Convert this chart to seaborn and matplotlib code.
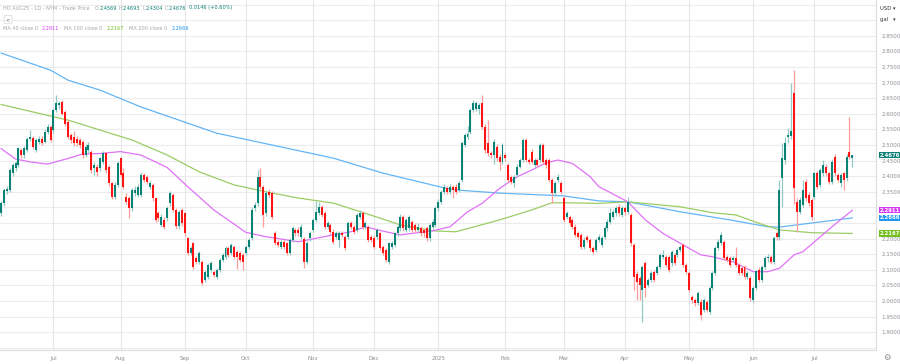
import numpy as np
import pandas as pd
import matplotlib
matplotlib.use("Agg")
import matplotlib.pyplot as plt
import matplotlib.transforms as mtransforms
import seaborn as sns

# -------------------------------
# Daily candles, HO AUG25
# -------------------------------
opens = [
    # Jun 2024
    2.281, 2.313, 2.352, 2.356, 2.409, 2.425, 2.436, 2.484, 2.468, 2.484, 2.520, 2.524, 2.484, 2.511, 2.521, 2.511, 2.543, 2.559,
    # Jul 2024
    2.548, 2.612, 2.628, 2.639, 2.606, 2.574, 2.532, 2.527, 2.521, 2.516, 2.511, 2.468, 2.484, 2.478, 2.425, 2.431, 2.425, 2.447, 2.473, 2.431, 2.377, 2.334, 2.372,
    # Aug 2024
    2.457, 2.410, 2.334, 2.329, 2.297, 2.345, 2.340, 2.340, 2.404, 2.399, 2.367, 2.372, 2.329, 2.281, 2.244, 2.260, 2.265, 2.313, 2.340, 2.292, 2.240, 2.292,
    # Sep 2024
    2.281, 2.201, 2.153, 2.185, 2.137, 2.126, 2.126, 2.067, 2.078, 2.099, 2.094, 2.078, 2.099, 2.132, 2.142, 2.169, 2.153, 2.174, 2.158, 2.153, 2.148,
    # Oct 2024
    2.153, 2.174, 2.201, 2.297, 2.313, 2.399, 2.367, 2.281, 2.350, 2.345, 2.217, 2.190, 2.174, 2.190, 2.185, 2.153, 2.196, 2.228, 2.228, 2.206, 2.200, 2.126, 2.201,
    # Nov 2024
    2.228, 2.260, 2.281, 2.302, 2.281, 2.238, 2.244, 2.222, 2.206, 2.196, 2.217, 2.206, 2.206, 2.249, 2.238, 2.228, 2.270, 2.281, 2.238, 2.238, 2.206,
    # Dec 2024
    2.201, 2.206, 2.217, 2.174, 2.164, 2.126, 2.174, 2.180, 2.217, 2.233, 2.270, 2.228, 2.233, 2.254, 2.244, 2.228, 2.233, 2.228, 2.233, 2.201, 2.238, 2.244,
    # Jan 2025
    2.297, 2.318, 2.350, 2.361, 2.350, 2.367, 2.367, 2.356, 2.388, 2.500, 2.527, 2.543, 2.612, 2.617, 2.617, 2.634, 2.559, 2.505, 2.473, 2.468, 2.495, 2.463, 2.447,
    # Feb 2025
    2.468, 2.436, 2.399, 2.377, 2.404, 2.431, 2.452, 2.516, 2.452, 2.479, 2.436, 2.452, 2.452, 2.500, 2.452, 2.452, 2.388, 2.345, 2.388, 2.377,
    # Mar 2025
    2.329, 2.270, 2.270, 2.260, 2.238, 2.217, 2.212, 2.174, 2.206, 2.196, 2.169, 2.164, 2.196, 2.180, 2.206, 2.233, 2.254, 2.270, 2.281, 2.302, 2.276,
    # Apr 2025
    2.297, 2.286, 2.276, 2.180, 2.088, 2.073, 2.035, 2.121, 2.052, 2.068, 2.094, 2.089, 2.110, 2.142, 2.142, 2.142, 2.121, 2.148, 2.148, 2.163, 2.180, 2.116,
    # May 2025
    2.090, 2.014, 2.004, 1.993, 1.998, 1.971, 1.998, 1.966, 2.041, 2.090, 2.169, 2.185, 2.190, 2.142, 2.137, 2.132, 2.137, 2.116, 2.105, 2.110, 2.078, 2.073,
    # Jun 2025
    2.004, 2.041, 2.100, 2.068, 2.110, 2.137, 2.142, 2.126, 2.217, 2.206, 2.393, 2.452, 2.525, 2.530, 2.666, 2.318, 2.286, 2.308, 2.382, 2.340, 2.324,
    # Jul 2025
    2.334, 2.409, 2.372, 2.409, 2.431, 2.409, 2.382, 2.463, 2.404, 2.377, 2.409, 2.393, 2.479, 2.4569,
]
highs = [
    2.322, 2.362, 2.368, 2.426, 2.444, 2.450, 2.495, 2.492, 2.497, 2.527, 2.548, 2.530, 2.522, 2.528, 2.530, 2.550, 2.566, 2.565,
    2.620, 2.660, 2.640, 2.645, 2.612, 2.580, 2.540, 2.545, 2.528, 2.522, 2.516, 2.502, 2.510, 2.484, 2.445, 2.438, 2.463, 2.482, 2.478, 2.436, 2.383, 2.380, 2.450,
    2.463, 2.428, 2.345, 2.336, 2.362, 2.368, 2.375, 2.415, 2.410, 2.405, 2.385, 2.378, 2.335, 2.288, 2.278, 2.268, 2.305, 2.352, 2.346, 2.298, 2.292, 2.298,
    2.286, 2.206, 2.176, 2.190, 2.143, 2.160, 2.132, 2.100, 2.122, 2.128, 2.100, 2.106, 2.138, 2.155, 2.176, 2.175, 2.186, 2.180, 2.165, 2.160, 2.154,
    2.180, 2.202, 2.300, 2.316, 2.420, 2.425, 2.372, 2.352, 2.358, 2.352, 2.224, 2.196, 2.196, 2.196, 2.190, 2.202, 2.240, 2.234, 2.236, 2.246, 2.206, 2.192, 2.224,
    2.266, 2.320, 2.318, 2.308, 2.290, 2.258, 2.250, 2.230, 2.226, 2.224, 2.224, 2.212, 2.256, 2.256, 2.245, 2.282, 2.292, 2.288, 2.256, 2.245, 2.212,
    2.208, 2.234, 2.222, 2.180, 2.170, 2.190, 2.192, 2.222, 2.244, 2.278, 2.276, 2.266, 2.276, 2.260, 2.250, 2.250, 2.240, 2.234, 2.240, 2.250, 2.262, 2.304,
    2.326, 2.356, 2.375, 2.368, 2.374, 2.372, 2.374, 2.385, 2.512, 2.540, 2.560, 2.620, 2.645, 2.642, 2.636, 2.660, 2.566, 2.580, 2.480, 2.518, 2.502, 2.470, 2.508,
    2.475, 2.442, 2.405, 2.405, 2.438, 2.458, 2.524, 2.522, 2.460, 2.486, 2.460, 2.460, 2.508, 2.506, 2.458, 2.458, 2.394, 2.384, 2.406, 2.384,
    2.336, 2.290, 2.276, 2.266, 2.246, 2.224, 2.218, 2.204, 2.212, 2.202, 2.176, 2.202, 2.214, 2.208, 2.240, 2.262, 2.297, 2.294, 2.305, 2.310, 2.305,
    2.305, 2.334, 2.282, 2.186, 2.095, 2.080, 2.116, 2.128, 2.075, 2.095, 2.100, 2.116, 2.154, 2.164, 2.148, 2.148, 2.164, 2.154, 2.170, 2.180, 2.186, 2.122,
    2.096, 2.020, 2.010, 2.032, 2.005, 2.010, 2.004, 2.048, 2.096, 2.176, 2.198, 2.220, 2.196, 2.148, 2.143, 2.144, 2.174, 2.122, 2.112, 2.116, 2.096, 2.080,
    2.048, 2.100, 2.108, 2.116, 2.144, 2.150, 2.148, 2.208, 2.224, 2.388, 2.505, 2.527, 2.555, 2.698, 2.740, 2.330, 2.334, 2.388, 2.392, 2.348, 2.330,
    2.415, 2.418, 2.428, 2.452, 2.438, 2.414, 2.455, 2.470, 2.410, 2.410, 2.414, 2.470, 2.591, 2.4693,
]
lows = [
    2.272, 2.305, 2.344, 2.350, 2.402, 2.418, 2.430, 2.460, 2.460, 2.478, 2.512, 2.488, 2.478, 2.504, 2.500, 2.505, 2.536, 2.510,
    2.540, 2.606, 2.615, 2.595, 2.560, 2.520, 2.505, 2.498, 2.496, 2.490, 2.460, 2.462, 2.476, 2.412, 2.405, 2.402, 2.418, 2.440, 2.412, 2.370, 2.328, 2.328, 2.366,
    2.398, 2.360, 2.310, 2.265, 2.290, 2.338, 2.333, 2.334, 2.380, 2.375, 2.360, 2.322, 2.252, 2.258, 2.238, 2.230, 2.258, 2.306, 2.285, 2.232, 2.232, 2.240,
    2.210, 2.146, 2.146, 2.104, 2.118, 2.120, 2.050, 2.060, 2.070, 2.092, 2.076, 2.072, 2.092, 2.126, 2.136, 2.140, 2.146, 2.134, 2.104, 2.125, 2.098,
    2.146, 2.168, 2.195, 2.288, 2.306, 2.360, 2.238, 2.274, 2.332, 2.262, 2.178, 2.172, 2.166, 2.166, 2.146, 2.146, 2.190, 2.210, 2.208, 2.200, 2.105, 2.118, 2.194,
    2.222, 2.254, 2.276, 2.268, 2.230, 2.230, 2.214, 2.182, 2.198, 2.174, 2.204, 2.162, 2.200, 2.230, 2.214, 2.222, 2.262, 2.230, 2.230, 2.188, 2.188,
    2.166, 2.198, 2.162, 2.146, 2.124, 2.120, 2.168, 2.174, 2.210, 2.226, 2.226, 2.220, 2.226, 2.220, 2.220, 2.222, 2.210, 2.206, 2.194, 2.194, 2.232, 2.238,
    2.290, 2.312, 2.344, 2.342, 2.344, 2.330, 2.343, 2.350, 2.382, 2.494, 2.520, 2.536, 2.606, 2.610, 2.600, 2.552, 2.476, 2.466, 2.460, 2.440, 2.450, 2.420, 2.440,
    2.450, 2.380, 2.375, 2.367, 2.398, 2.425, 2.446, 2.446, 2.440, 2.440, 2.430, 2.430, 2.446, 2.440, 2.428, 2.380, 2.313, 2.338, 2.380, 2.343,
    2.252, 2.262, 2.240, 2.230, 2.204, 2.198, 2.166, 2.168, 2.188, 2.160, 2.150, 2.158, 2.190, 2.174, 2.200, 2.226, 2.248, 2.262, 2.274, 2.274, 2.270,
    2.276, 2.278, 2.176, 2.035, 2.004, 2.003, 1.934, 2.014, 2.045, 2.060, 2.060, 2.082, 2.104, 2.136, 2.108, 2.094, 2.112, 2.114, 2.142, 2.158, 2.108, 2.086,
    2.028, 1.993, 1.984, 1.986, 1.940, 1.964, 1.964, 1.960, 2.034, 2.084, 2.162, 2.178, 2.130, 2.124, 2.108, 2.124, 2.108, 2.082, 2.082, 2.070, 2.070, 2.000,
    1.998, 2.034, 2.060, 2.060, 2.104, 2.126, 2.118, 2.120, 2.196, 2.196, 2.302, 2.440, 2.505, 2.520, 2.310, 2.222, 2.278, 2.300, 2.320, 2.306, 2.260,
    2.326, 2.360, 2.366, 2.402, 2.400, 2.374, 2.376, 2.400, 2.380, 2.366, 2.356, 2.386, 2.455, 2.4304,
]
closes = [
    2.313, 2.356, 2.360, 2.420, 2.436, 2.441, 2.489, 2.468, 2.489, 2.521, 2.527, 2.495, 2.516, 2.521, 2.507, 2.543, 2.559, 2.516,
    2.612, 2.634, 2.634, 2.601, 2.569, 2.527, 2.516, 2.505, 2.505, 2.500, 2.468, 2.495, 2.500, 2.420, 2.436, 2.415, 2.457, 2.473, 2.420, 2.377, 2.334, 2.372, 2.441,
    2.404, 2.367, 2.318, 2.297, 2.356, 2.356, 2.367, 2.404, 2.388, 2.383, 2.377, 2.329, 2.260, 2.265, 2.270, 2.238, 2.297, 2.345, 2.292, 2.240, 2.286, 2.249,
    2.217, 2.153, 2.169, 2.110, 2.126, 2.153, 2.057, 2.094, 2.115, 2.121, 2.083, 2.099, 2.132, 2.148, 2.169, 2.148, 2.180, 2.142, 2.142, 2.132, 2.126,
    2.174, 2.196, 2.292, 2.308, 2.399, 2.367, 2.276, 2.345, 2.340, 2.270, 2.185, 2.180, 2.190, 2.174, 2.153, 2.196, 2.233, 2.217, 2.217, 2.238, 2.126, 2.185, 2.217,
    2.260, 2.286, 2.302, 2.276, 2.238, 2.249, 2.222, 2.190, 2.217, 2.217, 2.212, 2.169, 2.249, 2.238, 2.222, 2.276, 2.281, 2.238, 2.249, 2.196, 2.196,
    2.174, 2.228, 2.169, 2.153, 2.132, 2.185, 2.185, 2.217, 2.238, 2.270, 2.233, 2.260, 2.270, 2.228, 2.228, 2.238, 2.217, 2.217, 2.201, 2.244, 2.254, 2.297,
    2.318, 2.350, 2.367, 2.350, 2.367, 2.356, 2.350, 2.377, 2.505, 2.532, 2.537, 2.612, 2.634, 2.634, 2.628, 2.559, 2.484, 2.473, 2.468, 2.511, 2.457, 2.447, 2.500,
    2.457, 2.388, 2.383, 2.399, 2.431, 2.452, 2.516, 2.452, 2.447, 2.447, 2.452, 2.436, 2.500, 2.447, 2.436, 2.388, 2.345, 2.377, 2.399, 2.350,
    2.260, 2.281, 2.249, 2.238, 2.212, 2.206, 2.174, 2.196, 2.196, 2.169, 2.158, 2.196, 2.206, 2.201, 2.233, 2.254, 2.281, 2.286, 2.297, 2.281, 2.297,
    2.286, 2.318, 2.185, 2.078, 2.062, 2.052, 2.110, 2.041, 2.068, 2.089, 2.068, 2.110, 2.148, 2.148, 2.116, 2.100, 2.158, 2.121, 2.163, 2.174, 2.116, 2.094,
    2.036, 2.004, 1.993, 2.025, 1.955, 2.004, 1.971, 2.041, 2.090, 2.169, 2.190, 2.212, 2.137, 2.132, 2.116, 2.137, 2.116, 2.089, 2.089, 2.078, 2.089, 2.009,
    2.041, 2.095, 2.068, 2.110, 2.137, 2.142, 2.126, 2.201, 2.206, 2.356, 2.457, 2.505, 2.532, 2.545, 2.361, 2.286, 2.324, 2.356, 2.329, 2.313, 2.270,
    2.409, 2.367, 2.420, 2.436, 2.409, 2.382, 2.447, 2.409, 2.388, 2.404, 2.388, 2.463, 2.463, 2.4676,
]

# -------------------------------
# Moving averages (bar position, value)
# -------------------------------
ma40_pos = [0, 5, 10, 16, 23, 28, 34, 41, 48, 57, 64, 73, 84, 91, 102, 114, 120, 125, 132, 137, 148, 154, 160, 165,
            171, 177, 182, 187, 191, 196, 202, 205, 215, 221, 227, 233, 240, 244, 251, 258, 263, 267, 272, 275, 281, 285, 292]
ma40_val = [2.489, 2.455, 2.446, 2.439, 2.457, 2.471, 2.473, 2.479, 2.468, 2.428, 2.367, 2.292, 2.220, 2.206, 2.190,
            2.212, 2.222, 2.238, 2.222, 2.212, 2.225, 2.238, 2.286, 2.313, 2.361, 2.398, 2.420, 2.443, 2.452, 2.441,
            2.399, 2.367, 2.318, 2.260, 2.217, 2.185, 2.148, 2.142, 2.126, 2.094, 2.094, 2.105, 2.148, 2.158, 2.206,
            2.238, 2.2911]
ma100_pos = [0, 11, 23, 34, 45, 57, 68, 80, 91, 102, 114, 125, 137, 148, 156, 171, 182, 189, 194, 205, 215, 233, 244,
             252, 260, 267, 278, 292]
ma100_val = [2.630, 2.606, 2.580, 2.548, 2.516, 2.468, 2.414, 2.372, 2.350, 2.330, 2.314, 2.281, 2.244, 2.225, 2.222,
             2.260, 2.292, 2.315, 2.315, 2.313, 2.318, 2.302, 2.283, 2.276, 2.249, 2.228, 2.219, 2.2167]
ma200_pos = [0, 17, 23, 34, 48, 61, 74, 85, 102, 114, 131, 151, 156, 171, 193, 205, 215, 233, 250, 263, 267, 278, 292]
ma200_val = [2.795, 2.740, 2.708, 2.676, 2.622, 2.580, 2.538, 2.516, 2.482, 2.458, 2.410, 2.365, 2.356, 2.346, 2.337,
             2.321, 2.318, 2.286, 2.260, 2.238, 2.237, 2.250, 2.2666]

y_ticks = [1.90, 1.95, 2.00, 2.05, 2.10, 2.15, 2.20, 2.25, 2.30, 2.35, 2.40, 2.45, 2.50, 2.55, 2.60, 2.65, 2.70,
           2.75, 2.80, 2.85]
hidden_ticks = [2.25, 2.30]   # covered by the MA value tags on the scale
grid_levels = [1.85] + y_ticks + [2.90, 2.95]

# -------------------------------
# Prepare frame
# -------------------------------
dates = pd.bdate_range("2024-06-05", "2025-07-18")
df = pd.DataFrame({"date": dates, "open": opens, "high": highs, "low": lows, "close": closes})
df["pos"] = np.arange(len(df))
up = df["close"] >= df["open"]

sns.set_style("white")
plt.rcParams["font.family"] = ["DejaVu Sans"]

teal = "#0b8276"
red = "#ff1414"
grey_txt = "#8b8e95"
grey_lbl = "#a3a6ad"

fig = plt.figure(figsize=(9, 3.64), dpi=100)
ax = fig.add_axes([0, 14 / 364, 876 / 900, 350 / 364])

# grid
for lv in grid_levels:
    ax.axhline(lv, color="#ececec", lw=0.8, zorder=0)

months = df.groupby(df["date"].dt.to_period("M"))["pos"].min().iloc[1:]
month_labels = [("2025" if p.month == 1 else p.strftime("%b")) for p in months.index]
for p in months.values:
    ax.axvline(p, color="#e6e6e6", lw=0.8, zorder=0)

# moving averages
for pos, val, col in [(ma200_pos, ma200_val, "#64b5f6"),
                      (ma100_pos, ma100_val, "#9ccc65"),
                      (ma40_pos, ma40_val, "#df72f7")]:
    sns.lineplot(x=pos, y=val, color=col, lw=0.9, ax=ax, zorder=2)

# candles
wick_cols = np.where(up, "#93c9c3", "#ff9d9d")
body_cols = np.where(up, teal, red)
ax.vlines(df["pos"], df["low"], df["high"], colors=wick_cols, lw=0.9, zorder=3)
body_bottom = np.minimum(df["open"], df["close"])
body_h = (df["close"] - df["open"]).abs().clip(lower=0.003)
ax.bar(df["pos"], body_h, bottom=body_bottom, width=0.68, color=body_cols, linewidth=0, zorder=4)

# axes
ax.set_xlim(-0.34, 300.1)
ax.set_ylim(1.843, 2.965)
ax.set_xticks(months.values)
ax.set_xticklabels(month_labels)
ax.yaxis.tick_right()
ax.set_yticks(y_ticks)
ax.set_yticklabels(["" if v in hidden_ticks else f"{v:.4f}" for v in y_ticks])
ax.tick_params(axis="both", length=0, labelsize=4, labelcolor=grey_txt)
ax.tick_params(axis="x", pad=4)
ax.tick_params(axis="y", pad=4)
ax.set_xlabel("")
ax.set_ylabel("")
for s in ["top", "left"]:
    ax.spines[s].set_visible(False)
for s in ["right", "bottom"]:
    ax.spines[s].set_color("#dcdcdc")
    ax.spines[s].set_linewidth(0.8)

# last value tags on the price scale
trans = mtransforms.blended_transform_factory(ax.transAxes, ax.transData)
for val, col in [(closes[-1], teal), (ma200_val[-1], "#2196f3"), (ma40_val[-1], "#d63ef5"),
                 (ma100_val[-1], "#72bf1e")]:
    ax.text(1.004, val, f"{val:.4f}", transform=trans, ha="left", va="center", fontsize=3.8,
            color="white", fontweight="bold", zorder=6, clip_on=False,
            bbox=dict(boxstyle="square,pad=0.12", fc=col, ec="none"))

# -------------------------------
# Header texts (laid out left to right, measured so they never overlap)
# -------------------------------
renderer = fig.canvas.get_renderer()


def text_row(x, y, parts, size=3.6):
    for s, c, gap in parts:
        t = fig.text(x / 900, 1 - y / 364, s, color=c, fontsize=size, va="center", ha="left")
        bb = t.get_window_extent(renderer=renderer)
        x = bb.x1 + gap


text_row(3, 8, [("HO AUG25 - 1D - NYM - Trade Price", grey_lbl, 5),
                ("O", grey_lbl, 0.5), ("2.4569", teal, 2),
                ("H", grey_lbl, 0.5), ("2.4693", teal, 2),
                ("L", grey_lbl, 0.5), ("2.4304", teal, 2),
                ("C", grey_lbl, 0.5), ("2.4676", teal, 2.5),
                ("0.0146 (+0.60%)", teal, 0)])

text_row(3, 29, [("MA 40 close 0", grey_lbl, 4), ("2.2911", "#d63ef5", 5),
                 ("MA 100 close 0", grey_lbl, 4), ("2.2167", "#72bf1e", 5),
                 ("MA 200 close 0", grey_lbl, 4), ("2.2666", "#2196f3", 0)])

fig.text(8 / 900, 1 - 19.5 / 364, "<", fontsize=3.6, color="#555555", ha="center", va="center",
         bbox=dict(boxstyle="round,pad=0.35", fc="white", ec="#d5d5d5", lw=0.5))

fig.text(880 / 900, 1 - 8 / 364, "USD \u25be", fontsize=3.8, color="#333333", ha="left", va="center")
fig.text(880 / 900, 1 - 19 / 364, "gal   \u25be", fontsize=3.8, color="#333333", ha="left", va="center")
fig.text(887 / 900, 1 - 357 / 364, "\u2699", fontsize=6, color="#888888", ha="center", va="center")

fig.savefig("out.png", dpi=100, facecolor="white")
